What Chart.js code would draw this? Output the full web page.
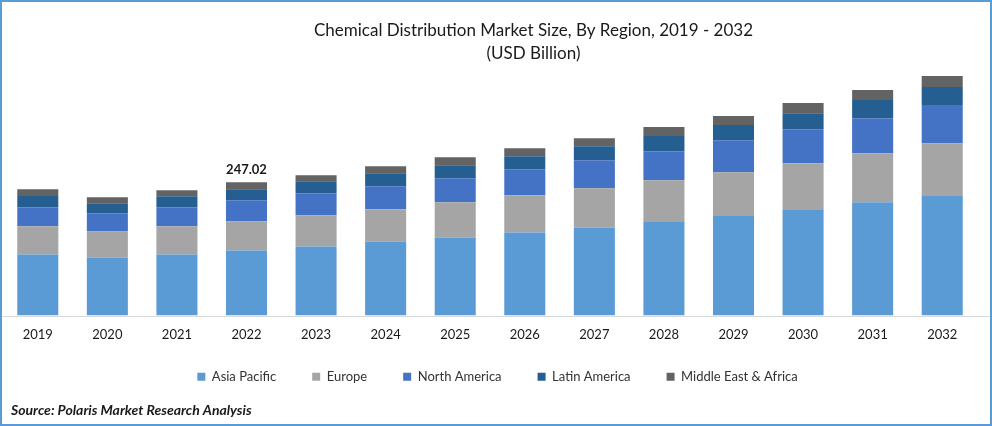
<!DOCTYPE html>
<html>
<head>
<meta charset="utf-8">
<script src="https://cdn.jsdelivr.net/npm/chart.js@4"></script>
<style>
    html, body { margin: 0; padding: 0; background: #fff; }
    #wrap { position: relative; width: 992px; height: 426px; overflow: hidden; }
    #frame { position: absolute; left: 0; top: 0; right: 0; bottom: 0; border: 2px solid #5b9bd5; pointer-events: none; }
</style>
</head>
<body>
<div id="wrap">
    <canvas id="market-chart" width="992" height="426"></canvas>
    <div id="frame"></div>
</div>
<script>
const years = ['2019', '2020', '2021', '2022', '2023', '2024', '2025', '2026', '2027', '2028', '2029', '2030', '2031', '2032'];
const asiaPacific = [113.3, 107.7, 113.3, 120.7, 128.1, 137.4, 144.8, 154.1, 163.4, 174.6, 185.7, 196.8, 209.8, 222.8];
const europe = [52, 48.3, 52, 53.9, 57.6, 59.4, 65, 68.7, 72.4, 76.1, 79.9, 85.4, 91, 96.6];
const northAmerica = [35.3, 33.4, 35.3, 39, 40.9, 42.7, 44.6, 48.3, 52, 53.9, 59.4, 63.1, 65, 70.6];
const latinAmerica = [21, 18.6, 20.4, 20.4, 22.3, 24.1, 24.1, 24.1, 26, 27.9, 27.9, 29.7, 33.4, 33.4];
const middleEast = [12.4, 11.1, 11.1, 13, 11.1, 13, 14.9, 14.9, 14.9, 16.7, 16.7, 18.6, 18.6, 20.4];
const calloutIndex = 3;
const calloutLabel = '247.02';
const yMax = 457;

const FONT = 'Lato';
const LEGEND_TRIM = 10;

function shiftBox(box, dx) {
    box.left += dx;
    box.right += dx;
}

// title, legend and source are not centred on the plot in the original
const extras = {
    id: 'extras',
    beforeInit(chart) {
        // legend padding is 36 for the horizontal gaps, that is too tall vertically
        const fit = chart.legend.fit;
        chart.legend.fit = function () {
            fit.call(this);
            this.height -= LEGEND_TRIM;
        };
    },
    afterLayout(chart) {
        shiftBox(chart.titleBlock, 43.5);
        shiftBox(chart.legend, 7.5);
        // only the top moves, the legend clips its text to this box
        chart.legend.top -= LEGEND_TRIM + 1;
        shiftBox(chart.boxes.find(b => b.options && b.options.text && b.position === 'bottom'), 8);
    },
    afterDatasetsDraw(chart) {
        const ctx = chart.ctx;
        const y0 = Math.round(chart.scales.y.getPixelForValue(0));
        ctx.save();
        // baseline runs the whole width of the frame
        ctx.strokeStyle = '#d9d9d9';
        ctx.lineWidth = 1;
        ctx.beginPath();
        ctx.moveTo(2, y0 + 0.5);
        ctx.lineTo(990, y0 + 0.5);
        ctx.stroke();

        const top = chart.getDatasetMeta(4).data[calloutIndex];
        ctx.fillStyle = '#1a1a1a';
        ctx.font = 'bold 13px ' + FONT;
        ctx.textAlign = 'center';
        ctx.textBaseline = 'bottom';
        ctx.fillText(calloutLabel, top.x, top.y - 6);
        ctx.restore();
    }
};

new Chart(document.getElementById('market-chart').getContext('2d'), {
    type: 'bar',
    data: {
        labels: years,
        datasets: [
            { label: 'Asia Pacific', data: asiaPacific, backgroundColor: '#5b9bd5' },
            { label: 'Europe', data: europe, backgroundColor: '#a5a5a5' },
            { label: 'North America', data: northAmerica, backgroundColor: '#4472c4' },
            { label: 'Latin America', data: latinAmerica, backgroundColor: '#255e91' },
            { label: 'Middle East & Africa', data: middleEast, backgroundColor: '#636363' }
        ]
    },
    options: {
        responsive: false,
        animation: false,
        maintainAspectRatio: false,
        layout: { padding: { left: 3, right: 15, top: 0, bottom: 7 } },
        datasets: { bar: { categoryPercentage: 1, barPercentage: 0.59 } },
        scales: {
            x: {
                stacked: true,
                grid: { display: false },
                border: { display: false },
                ticks: { color: '#1a1a1a', font: { family: FONT, size: 13 }, padding: 3, maxRotation: 0 }
            },
            y: { stacked: true, display: false, min: 0, max: yMax }
        },
        plugins: {
            title: {
                display: true,
                text: ['Chemical Distribution Market Size, By Region, 2019 - 2032', '(USD Billion)'],
                color: '#1a1a1a',
                font: { family: FONT, size: 17, weight: 'normal', lineHeight: 1.35 },
                padding: { top: 19, bottom: 4 }
            },
            subtitle: {
                display: true,
                position: 'bottom',
                align: 'start',
                text: 'Source: Polaris Market Research Analysis',
                color: '#1a1a1a',
                font: { family: FONT, size: 14, weight: 'bold', style: 'italic' },
                padding: { top: 8, bottom: 0 }
            },
            legend: {
                position: 'bottom',
                labels: {
                    color: '#333333',
                    font: { family: FONT, size: 13 },
                    boxWidth: 8,
                    boxHeight: 8,
                    padding: 36
                }
            },
            tooltip: { enabled: false }
        }
    },
    plugins: [extras]
});
</script>
</body>
</html>
